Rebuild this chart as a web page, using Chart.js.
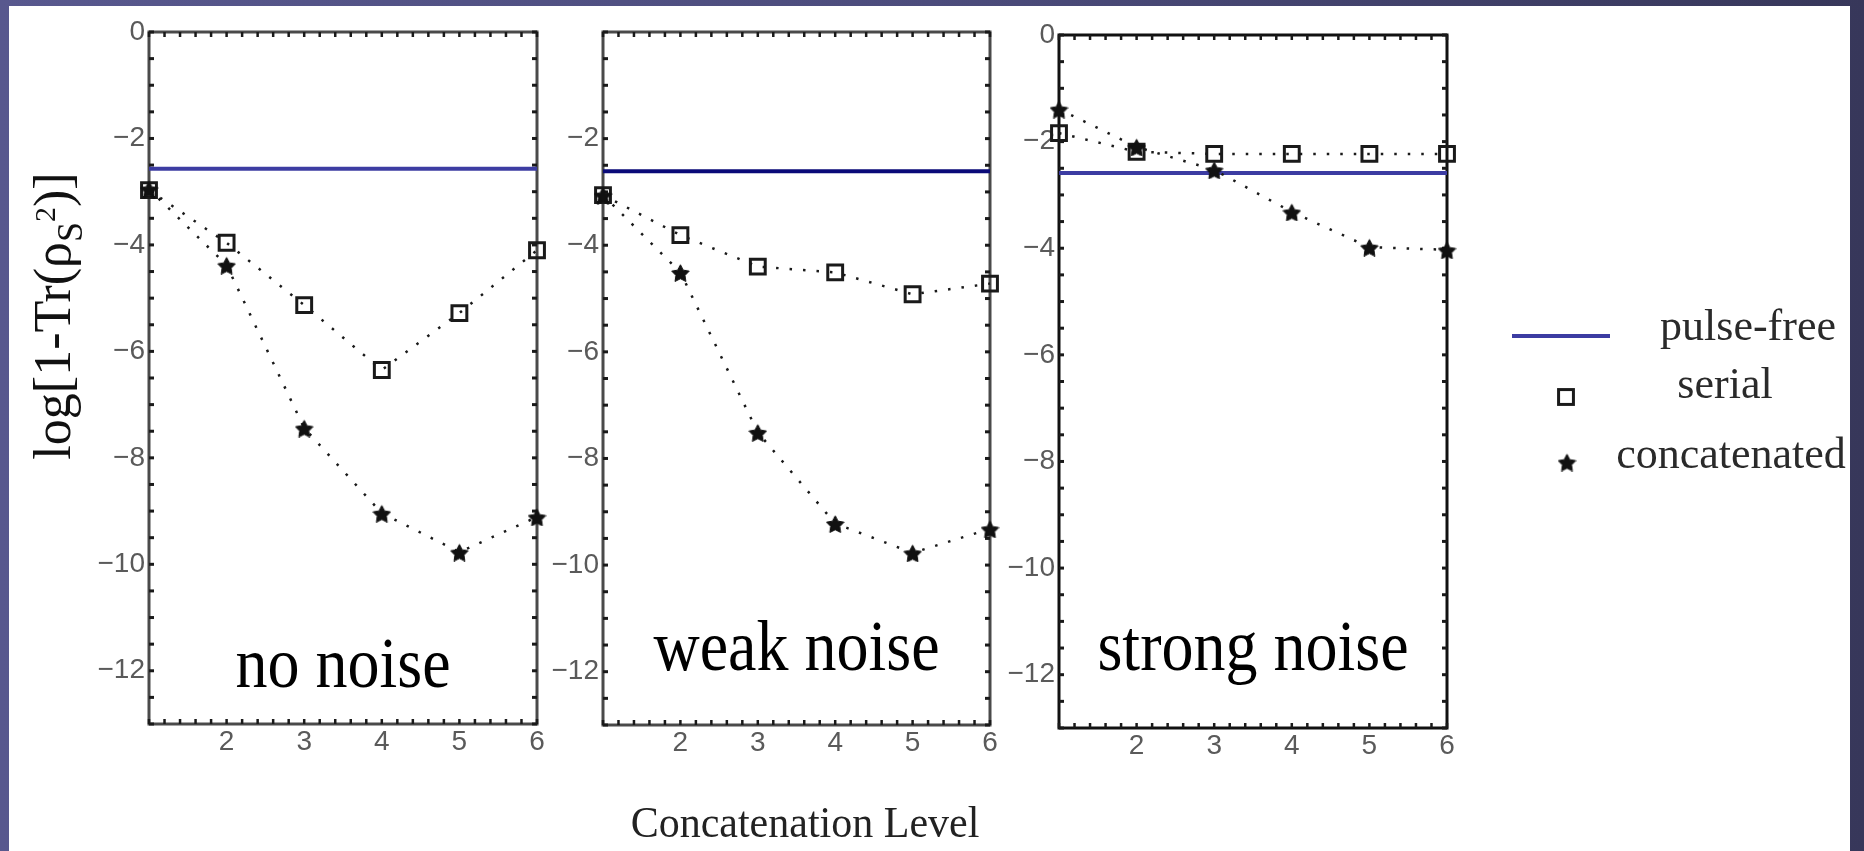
<!DOCTYPE html>
<html>
<head>
<meta charset="utf-8">
<script src="https://cdn.jsdelivr.net/npm/chart.js@4.4.1/dist/chart.umd.min.js"></script>
<style>
  html, body { margin: 0; padding: 0; }
  body {
    width: 1864px; height: 851px; overflow: hidden; position: relative;
    background: linear-gradient(to right, #58588e 0%, #4c4c7c 50%, #37375a 100%);
  }
  #sheet { position: absolute; left: 9px; top: 6px; width: 1841px; height: 845px; background: #fff; }
  canvas { position: absolute; left: 0; top: 0; }
</style>
</head>
<body>
<div id="sheet"></div>
<canvas id="chartNo" width="1864" height="851"></canvas>
<canvas id="chartWeak" width="1864" height="851"></canvas>
<canvas id="chartStrong" width="1864" height="851"></canvas>
<script>
// niveaux de concatenation (axe x) et graduations
var levels = [1, 2, 3, 4, 5, 6];
var xTickLabels = [2, 3, 4, 5, 6];
var yTickLabels = [0, -2, -4, -6, -8, -10, -12];
var yTickLabelsWeak = [-2, -4, -6, -8, -10, -12];
var seriesNames = ["pulse-free", "serial", "concatenated"];

// no noise
var pulseFreeNo = [-2.57, -2.57, -2.57, -2.57, -2.57, -2.57];
var serialNo = [-2.97, -3.96, -5.13, -6.35, -5.28, -4.1];
var concatNo = [-2.95, -4.38, -7.44, -9.04, -9.77, -9.11];

// weak noise
var pulseFreeWeak = [-2.61, -2.61, -2.61, -2.61, -2.61, -2.61];
var serialWeak = [-3.06, -3.81, -4.4, -4.51, -4.92, -4.72];
var concatWeak = [-3.06, -4.51, -7.51, -9.22, -9.77, -9.32];

// strong noise
var pulseFreeStrong = [-2.59, -2.59, -2.59, -2.59, -2.59, -2.59];
var serialStrong = [-1.84, -2.19, -2.23, -2.23, -2.23, -2.23];
var concatStrong = [-1.39, -2.1, -2.53, -3.32, -3.98, -4.03];

var yMinorStep = 0.5;
var xMinorStep = 0.2;

var serif = "'Liberation Serif', 'Times New Roman', serif";
var sans = "'Liberation Sans', Arial, sans-serif";

function toPoints(arr) {
  return levels.map(function (x, i) { return { x: x, y: arr[i] }; });
}

// petite etoile a 5 branches pour les points "concatenated"
function makeStar(size) {
  var c = document.createElement("canvas");
  c.width = size;
  c.height = size;
  var g = c.getContext("2d");
  var r = size / 2;
  g.beginPath();
  for (var k = 0; k < 10; k++) {
    var rad = k % 2 == 0 ? r - 0.3 : r * 0.5;
    var a = -Math.PI / 2 + (k * Math.PI) / 5;
    var px = r + rad * Math.cos(a);
    var py = r + 1.5 + rad * Math.sin(a);
    if (k == 0) g.moveTo(px, py);
    else g.lineTo(px, py);
  }
  g.closePath();
  g.fillStyle = "#111";
  g.fill();
  g.strokeStyle = "#111";
  g.lineWidth = 1;
  g.stroke();
  return c;
}
var starImg = makeStar(19);

// cadre + petites graduations vers l'interieur
var framePlugin = {
  id: "frame",
  beforeDatasetsDraw: function (chart, args, opts) {
    var ctx = chart.ctx, a = chart.chartArea;
    var xs = chart.scales.x, ys = chart.scales.y;
    ctx.save();
    ctx.strokeStyle = opts.color;
    ctx.lineWidth = 3;
    ctx.strokeRect(a.left, a.top, a.right - a.left, a.bottom - a.top);
    ctx.fillStyle = "#1a1a1a";
    for (var v = ys.max; v >= ys.min - 1e-9; v -= yMinorStep) {
      var py = ys.getPixelForValue(v);
      ctx.fillRect(a.left, py - 1.5, 5, 3);
      ctx.fillRect(a.right - 5, py - 1.5, 5, 3);
    }
    for (var u = xs.min; u <= xs.max + 1e-9; u += xMinorStep) {
      var px = xs.getPixelForValue(u);
      ctx.fillRect(px - 1.25, a.top, 2.5, 5);
      ctx.fillRect(px - 1.25, a.bottom - 5, 2.5, 5);
    }
    ctx.restore();
  }
};

// texte "no noise" etc. dans le graphe
var notePlugin = {
  id: "note",
  afterDraw: function (chart, args, opts) {
    var ctx = chart.ctx, a = chart.chartArea;
    ctx.save();
    ctx.font = "64px " + serif;
    ctx.fillStyle = "#000";
    ctx.textAlign = "center";
    ctx.translate((a.left + a.right) / 2, opts.baseline);
    ctx.scale(1, 1.12);
    ctx.fillText(opts.text, 0, 0);
    ctx.restore();
  }
};

// titre de l'axe y avec indice et exposant
var yTitlePlugin = {
  id: "yTitle",
  afterDraw: function (chart, args, opts) {
    var ctx = chart.ctx;
    var big = "52px " + serif, sub = "36px " + serif, sup = "30px " + serif;
    var parts = [["log[1-Tr(\u03c1", big, 0], ["S", sub, 12], ["2", sup, -15], [")]", big, 0]];
    ctx.save();
    ctx.fillStyle = "#111";
    var total = 0;
    parts.forEach(function (p) { ctx.font = p[1]; total += ctx.measureText(p[0]).width; });
    ctx.translate(opts.x, opts.y);
    ctx.rotate(-Math.PI / 2);
    var cx = -total / 2;
    parts.forEach(function (p) {
      ctx.font = p[1];
      ctx.fillText(p[0], cx, p[2]);
      cx += ctx.measureText(p[0]).width;
    });
    ctx.restore();
  }
};

// titre de l'axe x, centre un peu a droite comme dans l'original
var xTitlePlugin = {
  id: "xTitle",
  afterDraw: function (chart, args, opts) {
    var ctx = chart.ctx;
    ctx.save();
    ctx.font = "42px " + serif;
    ctx.fillStyle = "#222";
    ctx.textAlign = "center";
    ctx.translate(opts.x, opts.y);
    ctx.scale(1, 1.05);
    ctx.fillText(opts.text, 0, 0);
    ctx.restore();
  }
};

// legende a droite, dessinee depuis les datasets
var sideLegendPlugin = {
  id: "sideLegend",
  afterDraw: function (chart, args, opts) {
    var ctx = chart.ctx;
    chart.data.datasets.forEach(function (ds, i) {
      var it = opts.items[i];
      ctx.save();
      if (ds.pointRadius === 0) {
        ctx.strokeStyle = ds.borderColor;
        ctx.lineWidth = ds.borderWidth;
        ctx.beginPath();
        ctx.moveTo(it.x0, it.my);
        ctx.lineTo(it.x1, it.my);
        ctx.stroke();
      } else if (ds.pointStyle === "rect") {
        var s = ds.pointRadius * Math.SQRT1_2;
        ctx.strokeStyle = ds.pointBorderColor;
        ctx.lineWidth = ds.pointBorderWidth;
        ctx.strokeRect(it.mx - s, it.my - s, 2 * s, 2 * s);
      } else {
        var img = ds.pointStyle;
        ctx.drawImage(img, it.mx - img.width / 2, it.my - img.height / 2);
      }
      ctx.font = "44px " + serif;
      ctx.fillStyle = "#2a2a2a";
      ctx.textAlign = "center";
      ctx.fillText(ds.label, it.tx, it.ty);
      ctx.restore();
    });
  }
};

function buildChart(id, pulse, serial, concat, yTicks, opt) {
  var datasets = [
    {
      label: seriesNames[0],
      data: toPoints(pulse),
      borderColor: opt.lineColor,
      borderWidth: 4,
      pointRadius: 0,
      order: 3
    },
    {
      label: seriesNames[1],
      data: toPoints(serial),
      borderColor: "#1a1a1a",
      borderWidth: 2.5,
      borderDash: [2.5, 11],
      pointStyle: "rect",
      pointRadius: 10.5,
      pointBorderWidth: 3,
      pointBorderColor: "#1a1a1a",
      pointBackgroundColor: "rgba(0,0,0,0)",
      order: 2
    },
    {
      label: seriesNames[2],
      data: toPoints(concat),
      borderColor: "#1a1a1a",
      borderWidth: 2.5,
      borderDash: [2.5, 11],
      pointStyle: starImg,
      pointRadius: 9,
      order: 1
    }
  ];

  var plugins = [framePlugin, notePlugin];
  if (opt.yTitle) plugins.push(yTitlePlugin);
  if (opt.xTitle) plugins.push(xTitlePlugin);
  if (opt.legend) plugins.push(sideLegendPlugin);

  return new Chart(document.getElementById(id), {
    type: "line",
    data: { datasets: datasets },
    options: {
      responsive: false,
      animation: false,
      devicePixelRatio: 1,
      events: [],
      clip: false,
      layout: {
        padding: { left: opt.left - 60, top: opt.top, right: 1864 - opt.right, bottom: 0 }
      },
      scales: {
        x: {
          type: "linear",
          min: 1,
          max: 6,
          afterBuildTicks: function (s) {
            s.ticks = xTickLabels.map(function (v) { return { value: v }; });
          },
          afterFit: function (s) { s.height = 851 - opt.bottom; },
          grid: { display: false, drawTicks: false },
          border: { display: false },
          ticks: { font: { size: 28, family: sans }, color: "#5a5a5a", padding: 1, maxRotation: 0, autoSkip: false }
        },
        y: {
          type: "linear",
          min: -13,
          max: 0,
          afterBuildTicks: function (s) {
            s.ticks = yTicks.map(function (v) { return { value: v }; });
          },
          afterFit: function (s) { s.width = 60; },
          grid: { display: false, drawTicks: false },
          border: { display: false },
          ticks: {
            font: { size: 28, family: sans },
            color: "#5a5a5a",
            padding: 4,
            autoSkip: false,
            callback: function (v) { return v < 0 ? "\u2212" + Math.abs(v) : String(v); }
          }
        }
      },
      plugins: {
        legend: { display: false },
        tooltip: { enabled: false },
        frame: { color: opt.frameColor },
        note: { text: opt.note, baseline: opt.noteBaseline },
        yTitle: { x: 70, y: 316 },
        xTitle: { text: opt.xTitle, x: 805, y: 837 },
        sideLegend: {
          items: [
            { x0: 1512, x1: 1610, my: 336, tx: 1748, ty: 340 },
            { mx: 1566, my: 397, tx: 1725, ty: 398 },
            { mx: 1567, my: 462, tx: 1731, ty: 468 }
          ]
        }
      }
    },
    plugins: plugins
  });
}

buildChart("chartNo", pulseFreeNo, serialNo, concatNo, yTickLabels, {
  left: 149, right: 537, top: 32, bottom: 724,
  lineColor: "#3c3ca2", frameColor: "#4a4a4a",
  note: "no noise", noteBaseline: 687, yTitle: true
});

buildChart("chartWeak", pulseFreeWeak, serialWeak, concatWeak, yTickLabelsWeak, {
  left: 603, right: 990, top: 32, bottom: 725,
  lineColor: "#0a0a78", frameColor: "#4a4a4a",
  note: "weak noise", noteBaseline: 670, xTitle: "Concatenation Level"
});

buildChart("chartStrong", pulseFreeStrong, serialStrong, concatStrong, yTickLabels, {
  left: 1059, right: 1447, top: 35, bottom: 728,
  lineColor: "#3c3ca2", frameColor: "#111",
  note: "strong noise", noteBaseline: 670, legend: true
});
</script>
</body>
</html>
